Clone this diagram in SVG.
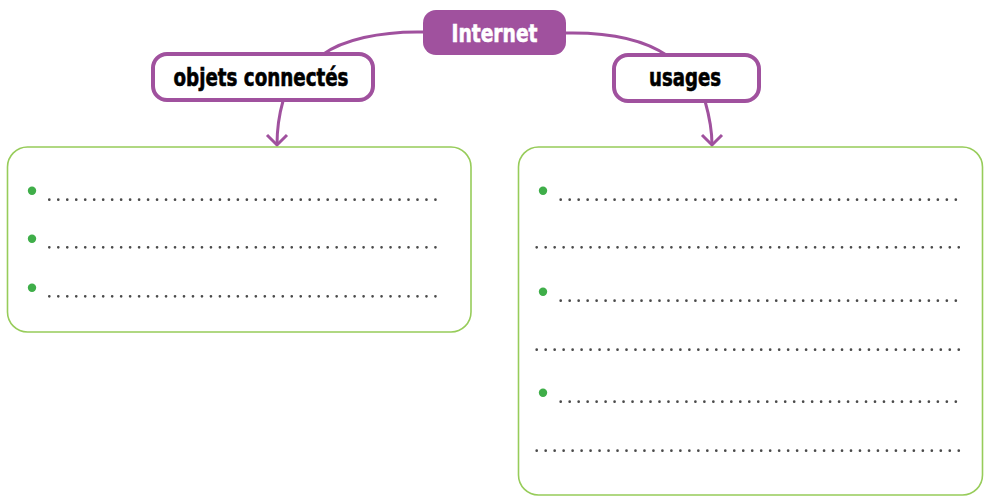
<svg xmlns="http://www.w3.org/2000/svg" width="989" height="496" viewBox="0 0 989 496">
<style>
.box{fill:#fff;stroke:#97cc5a;stroke-width:1.6}
.bul{fill:#3fae49}
.dots{stroke:#4a4a4a;stroke-width:2.7;stroke-linecap:round;stroke-dasharray:0 8.98;fill:none}
.con{fill:none;stroke:#a0519e;stroke-width:3}
.lbl{font-family:"DejaVu Sans Condensed","DejaVu Sans",sans-serif;font-weight:bold;font-size:25px;text-anchor:middle;stroke-width:0.6;paint-order:stroke}
</style>
<rect width="989" height="496" fill="#fff"/>
<g id="connectors">
<path class="con" d="M424,32 C380,31 342,40 322,55"/>
<path class="con" d="M565,33 C610,32 645,40 668,56"/>
<path class="con" d="M283,101 C279,115 277,130 277,145"/>
<path class="con" d="M267,135 L277,145 L287,135"/>
<path class="con" d="M705,101 C709,115 712,130 712,145"/>
<path class="con" d="M702,135 L712,145 L722,135"/>
</g>
<g id="internet">
<rect x="423" y="10" width="143" height="45" rx="13" fill="#a0519e"/>
<text class="lbl" x="494.5" y="41.5" fill="#fff" stroke="#fff" textLength="86" lengthAdjust="spacingAndGlyphs">Internet</text>
</g>
<g id="objets">
<rect x="153" y="54" width="220" height="46" rx="14" fill="#fff" stroke="#a0519e" stroke-width="4"/>
<text class="lbl" x="261" y="86" fill="#000" stroke="#000" textLength="175" lengthAdjust="spacingAndGlyphs">objets connectés</text>
</g>
<g id="usages">
<rect x="614" y="55" width="145" height="46" rx="14" fill="#fff" stroke="#a0519e" stroke-width="4"/>
<text class="lbl" x="685" y="86" fill="#000" stroke="#000" textLength="72" lengthAdjust="spacingAndGlyphs">usages</text>
</g>
<g id="box-objets">
<rect class="box" x="7.5" y="147" width="463.5" height="185" rx="20"/>
<circle class="bul" cx="32" cy="190.7" r="4.2"/>
<circle class="bul" cx="32" cy="238.7" r="4.2"/>
<circle class="bul" cx="32" cy="287.7" r="4.2"/>
<path class="dots" d="M49.3,199.7 H437 M49.3,247.3 H437 M49.3,296.3 H437"/>
</g>
<g id="box-usages">
<rect class="box" x="518.5" y="147" width="464" height="348" rx="20"/>
<circle class="bul" cx="543" cy="190.7" r="4.2"/>
<circle class="bul" cx="543" cy="291.7" r="4.2"/>
<circle class="bul" cx="543" cy="392.7" r="4.2"/>
<path class="dots" d="M560.7,199.7 H957 M560.7,300.7 H957 M560.7,401.7 H957"/>
<path class="dots" d="M536.7,247.3 H960 M536.7,349.7 H960 M536.7,450.7 H960"/>
</g>
</svg>
